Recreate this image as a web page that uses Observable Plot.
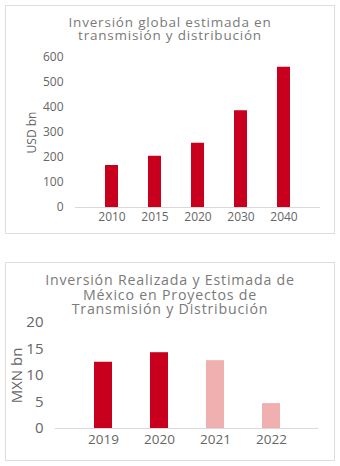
<!DOCTYPE html>
<html>
<head>
<meta charset="utf-8">
<script src="https://cdn.jsdelivr.net/npm/d3@7"></script>
<script src="https://cdn.jsdelivr.net/npm/@observablehq/plot@0.6"></script>
<style>
  body { margin: 0; background: #fff; font-family: "Open Sans", sans-serif; }
  #page { position: relative; width: 340px; height: 466px; overflow: hidden; }
  .box { position: absolute; border: 1px solid #dedede; box-sizing: border-box; }
  .t { position: absolute; left: 0; width: 340px; text-align: center; color: #7a7a7a; white-space: nowrap; }
  .plot { position: absolute; left: 0; }
</style>
</head>
<body>
<div id="page">
  <div class="box" style="left:5px;top:5px;width:330px;height:229px;"></div>
  <div class="t" style="top:15.5px;font-size:13.5px;letter-spacing:0.8px;line-height:13px;">Inversión global estimada en</div>
  <div class="t" style="top:28.5px;font-size:13.5px;letter-spacing:0.8px;line-height:13px;">transmisión y distribución</div>
  <div class="plot" id="p1" style="top:40px;"></div>

  <div class="box" style="left:5px;top:262px;width:330px;height:199px;"></div>
  <div class="t" style="top:273px;font-size:14.2px;letter-spacing:0.8px;line-height:14px;">Inversión Realizada y Estimada de</div>
  <div class="t" style="top:287.5px;font-size:14.2px;letter-spacing:0.8px;line-height:14px;">México en Proyectos de</div>
  <div class="t" style="top:302px;font-size:14.2px;letter-spacing:0.8px;line-height:14px;">Transmisión y Distribución</div>
  <div class="plot" id="p2" style="top:305px;"></div>
</div>
<script>
// Chart 1 data
const years1 = ["2010", "2015", "2020", "2030", "2040"];
const values1 = [168, 205, 257, 387, 561];
const ticks1 = [0, 100, 200, 300, 400, 500, 600];

// Chart 2 data
const years2 = ["2019", "2020", "2021", "2022"];
const values2 = [12.5, 14.3, 12.8, 4.7];
const kind2 = ["Realizada", "Realizada", "Estimada", "Estimada"];
const ticks2 = [0, 5, 10, 15, 20];

const red = "#c8001e";
const pink = "#f0b0b0";
const grey = "#666";

const data1 = years1.map((y, i) => ({year: y, value: values1[i]}));
const data2 = years2.map((y, i) => ({year: y, value: values2[i], kind: kind2[i]}));

const p1 = Plot.plot({
  width: 340, height: 190,
  marginTop: 17, marginBottom: 23, marginLeft: 75, marginRight: 20,
  style: {fontFamily: "'Open Sans', sans-serif", fontSize: "12px", color: grey, background: "transparent"},
  x: {domain: years1, padding: 0.69},
  y: {domain: [0, 600]},
  marks: [
    Plot.ruleY([0], {stroke: "#d9d9d9", strokeWidth: 1}),
    Plot.barY(data1, {x: "year", y: "value", fill: red}),
    Plot.axisX({tickSize: 0, tickPadding: 5, label: null}),
    Plot.axisY({ticks: ticks1, tickSize: 0, tickPadding: 12, label: "USD bn", labelAnchor: "center", labelArrow: "none", labelOffset: 48})
  ]
});
document.getElementById("p1").appendChild(p1);

const p2 = Plot.plot({
  width: 340, height: 150,
  marginTop: 17, marginBottom: 27, marginLeft: 55, marginRight: 22,
  style: {fontFamily: "'Open Sans', sans-serif", fontSize: "13.5px", color: grey, background: "transparent"},
  x: {domain: years2, padding: 0.68},
  y: {domain: [0, 20]},
  color: {domain: ["Realizada", "Estimada"], range: [red, pink]},
  marks: [
    Plot.ruleY([0], {stroke: "#d9d9d9", strokeWidth: 1}),
    Plot.barY(data2, {x: "year", y: "value", fill: "kind"}),
    Plot.axisX({tickSize: 0, tickPadding: 6, label: null}),
    Plot.axisY({ticks: ticks2, tickSize: 0, tickPadding: 12, label: "MXN bn", labelAnchor: "center", labelArrow: "none", labelOffset: 44, fontSize: 15})
  ]
});
document.getElementById("p2").appendChild(p2);
</script>
</body>
</html>
